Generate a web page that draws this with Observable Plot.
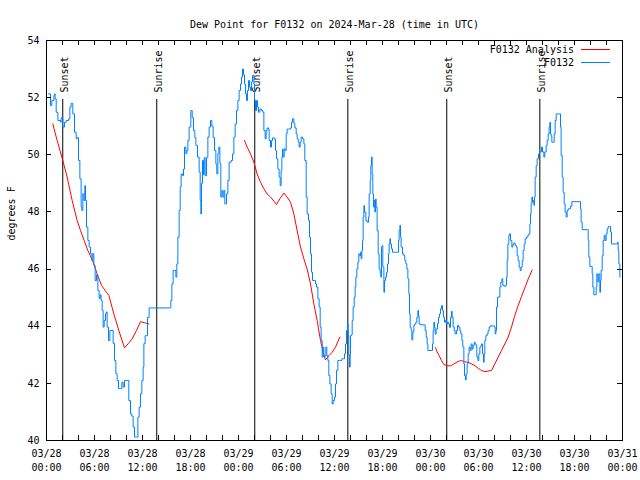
<!DOCTYPE html>
<html><head><meta charset="utf-8">
<script src="https://cdn.jsdelivr.net/npm/d3@7"></script>
<script src="https://cdn.jsdelivr.net/npm/@observablehq/plot@0.6"></script>
<style>body{margin:0;background:#fff} svg{display:block}</style>
</head><body><div id="chart"></div><script>
// ---------- data (hours since 03/28 00:00 UTC, dew point in °F) ----------
const titleText = "Dew Point for F0132 on 2024-Mar-28 (time in UTC)";
const yLabel = "degrees F";
const seriesNames = ["F0132 Analysis", "F0132"];
const seriesColors = ["#ff0000", "#0080ff"];

const obsHours = [0.25,0.5,0.67,0.92,1.0,1.08,1.21,1.42,1.75,1.83,2.04,2.25,2.46,2.75,2.92,3.08,3.29,3.5,3.71,3.83,4.0,4.17,4.33,4.42,4.54,4.67,4.79,4.875,5.0,5.17,5.33,5.5,5.67,5.79,5.92,6.08,6.25,6.42,6.58,6.71,6.83,6.96,7.08,7.21,7.375,7.5,7.58,7.75,7.92,8.2,8.33,8.5,8.67,8.83,9.0,9.25,9.42,9.58,9.75,10.0,10.17,10.29,10.5,10.67,10.83,11.0,11.25,11.42,11.58,11.75,11.92,12.08,12.17,
12.33,12.54,12.625,12.83,15.33,15.54,15.67,15.83,16.04,16.17,16.29,16.42,16.58,16.71,16.83,17.0,17.125,17.25,17.42,17.54,17.67,17.83,18.04,18.21,18.375,18.54,18.67,18.875,19.08,19.21,19.29,19.375,19.5,19.625,19.71,19.83,20.0,20.17,20.33,20.5,20.67,20.83,21.0,21.17,21.29,21.42,21.54,21.67,21.79,21.92,22.04,22.17,22.29,22.5,22.67,22.83,23.08,23.25,23.42,23.58,23.75,23.92,24.08,24.25,24.375,
24.5,24.625,24.75,24.875,25.0,25.125,25.25,25.375,25.5,25.625,25.75,25.92,26.0,26.125,26.25,26.375,26.5,26.67,26.875,27.04,27.17,27.33,27.46,27.58,27.75,27.83,28.0,28.125,28.25,28.5,28.625,28.75,28.92,29.08,29.21,29.33,29.42,29.5,29.58,29.71,29.83,29.96,30.08,30.29,30.5,30.625,30.75,30.92,31.04,31.21,31.33,31.46,31.58,31.71,31.83,32.0,32.17,32.29,32.46,32.58,32.75,32.875,33.0,33.125,33.25,33.5,33.625,33.75,33.92,34.08,34.21,34.33,34.46,34.58,34.67,34.79,34.92,35.04,35.17,35.29,35.42,35.58,35.71,35.83,36.0,36.125,36.25,36.42,36.625,
36.71,36.92,37.125,37.25,37.375,37.5,37.625,37.71,37.79,37.875,37.96,38.0,38.125,38.21,38.33,38.46,38.58,38.67,38.79,38.92,39.04,39.17,39.25,39.33,39.42,39.5,39.58,39.67,39.75,39.92,40.08,40.25,40.33,40.46,40.54,40.625,40.71,40.79,40.875,40.96,41.04,41.125,41.21,41.33,41.46,41.58,41.71,41.79,41.875,41.96,42.04,42.17,42.25,42.375,42.5,42.625,42.75,42.83,42.92,43.0,43.125,43.25,43.58,43.92,44.0,44.08,44.17,44.25,44.33,44.5,44.67,44.79,44.92,45.04,45.17,45.29,45.375,45.46,45.58,45.67,45.79,45.92,46.04,46.17,46.29,46.42,46.5,46.58,46.75,47.25,47.33,47.46,47.58,47.67,48.17,48.25,48.33,48.42,48.5,48.58,48.71,
48.875,49.0,49.125,49.25,49.375,49.5,49.625,49.75,49.875,50.0,50.125,50.25,50.375,50.5,50.625,50.71,50.83,50.96,51.08,51.25,51.375,51.5,51.67,51.79,51.92,52.04,52.17,52.25,52.375,52.46,52.58,52.71,52.83,52.96,53.08,53.21,53.33,53.46,53.58,53.71,53.79,53.92,54.04,54.17,54.29,54.375,54.5,54.625,54.71,54.79,54.92,55.08,55.2,55.33,55.46,55.83,56.0,56.08,56.17,56.25,56.375,56.58,56.67,56.79,56.92,57.04,57.21,57.375,57.5,57.58,57.67,57.79,57.875,58.0,58.17,58.29,58.42,58.58,58.75,58.83,58.96,59.08,59.21,59.33,59.46,59.58,59.71,59.83,60.0,60.17,60.29,60.42,60.5,60.58,60.67,60.75,60.83,60.92,61.0,61.08,
61.21,61.33,61.5,61.625,61.75,61.875,62.0,62.17,62.29,62.46,62.58,62.71,62.83,62.92,63.0,63.08,63.17,63.33,63.46,63.58,63.71,64.17,64.25,64.33,64.46,64.58,64.71,64.83,64.96,65.08,65.21,65.375,65.5,65.67,66.67,66.75,66.83,66.96,67.58,67.71,67.79,67.92,68.08,68.21,68.29,68.42,68.58,68.71,68.79,68.92,69.04,69.17,69.25,69.33,69.46,69.58,69.71,69.83,69.96,70.08,70.21,70.375,70.5,70.625,71.29,71.375,71.46,71.54,71.67];

const obsDewF = [52.13,51.72,51.9,52.07,52.13,51.96,51.49,51.2,51.14,51.3,50.97,51.14,51.2,51.25,51.67,51.8,51.43,50.79,50.56,50.6,49.8,49.16,48.17,48.05,48.64,48.4,48.92,48.4,47.47,47.0,46.77,46.54,46.3,46.54,46.12,45.6,45.8,45.25,44.97,45.1,44.9,44.55,43.97,44.2,44.44,44.5,43.97,43.5,43.85,43.85,43.4,42.8,42.34,42.1,41.82,41.82,42.04,41.87,42.1,42.1,42.1,41.4,40.93,40.85,40.47,40.12,40.12,40.82,41.17,41.64,42.1,42.57,43.39,
43.67,43.67,44.31,44.64,44.64,44.9,45.48,45.95,45.95,45.72,46.18,47.12,48.05,48.87,49.33,49.27,49.5,50.27,50.04,50.15,50.5,50.97,51.55,51.3,50.85,50.6,50.33,49.92,49.4,48.4,47.93,49.0,49.8,49.3,49.9,49.27,49.9,50.62,50.97,51.2,51.0,50.6,50.15,49.68,49.33,50.04,50.27,49.7,48.52,48.75,48.52,48.75,48.28,48.63,49.1,49.74,49.8,50.03,50.62,51.08,51.55,51.9,52.25,52.48,52.72,
53.0,52.8,52.48,52.13,51.9,52.25,52.6,52.37,52.25,52.55,52.78,52.48,51.9,51.55,51.9,51.67,51.49,51.6,51.55,51.49,50.85,50.56,50.85,50.94,50.9,50.5,50.27,50.5,50.59,50.55,50.15,49.86,49.5,49.22,48.92,49.45,49.92,50.2,49.92,50.21,50.15,50.73,50.9,50.9,50.94,51.14,51.26,51.1,50.94,50.73,50.56,50.44,50.27,50.44,50.62,50.56,50.38,49.8,48.52,47.93,47.7,47.12,46.53,45.89,45.6,45.6,45.48,45.37,44.96,44.67,43.97,43.5,42.92,43.27,42.92,42.97,43.27,42.97,42.8,42.27,41.98,41.64,41.28,41.4,41.52,41.98,42.45,42.8,42.8,
42.8,42.86,42.86,43.03,43.38,43.85,44.08,43.67,43.0,42.57,43.0,43.67,43.7,44.2,44.67,45.02,45.37,45.72,46.0,46.24,46.53,46.47,46.59,46.36,46.65,47.0,47.82,48.22,47.99,47.7,47.64,47.82,48.63,49.1,49.62,49.92,49.33,48.63,48.17,48.4,48.0,48.45,48.17,47.35,46.53,46.0,45.85,45.72,46.77,46.82,46.07,45.19,45.6,45.72,45.89,46.18,46.53,46.88,47.06,46.88,46.71,46.59,46.59,46.59,47.0,47.35,47.53,47.12,46.77,46.53,46.47,46.3,46.18,46.0,45.66,45.13,44.43,43.97,43.85,43.52,43.8,44.03,44.08,44.14,44.31,44.55,44.37,44.08,44.05,44.05,43.85,43.62,43.38,43.15,43.15,43.38,43.85,44.14,43.96,43.73,43.9,
44.1,44.31,44.43,44.61,44.72,44.55,44.31,44.14,44.2,44.08,44.14,44.08,43.96,44.31,44.52,44.31,43.97,43.85,43.73,43.85,44.03,43.97,43.85,43.73,43.5,43.27,42.68,42.27,42.12,42.33,42.68,43.03,43.27,43.15,43.38,43.2,43.32,43.44,43.38,43.32,42.92,42.8,43.03,43.27,43.32,43.38,43.03,42.74,43.03,43.5,43.67,43.73,43.85,43.97,44.01,44.01,43.97,43.73,43.85,44.67,45.02,45.02,45.37,45.54,45.66,45.43,45.4,45.43,45.72,46.3,46.88,47.18,47.23,47.0,46.77,46.86,46.91,46.82,46.77,46.47,46.3,46.07,45.95,46.07,46.3,46.65,46.88,47.06,47.12,47.18,47.23,47.58,47.93,48.28,48.52,48.34,48.4,48.23,48.52,49.22,
49.62,49.86,50.03,50.1,50.1,50.27,50.1,49.92,50.1,50.33,50.5,50.73,50.97,51.14,50.73,50.65,50.44,50.44,50.73,51.2,51.43,51.43,50.97,49.98,49.22,48.69,48.28,47.99,47.82,48.05,48.11,48.11,48.2,48.36,48.36,48.11,47.64,47.38,47.38,47.0,46.42,46.09,46.09,45.83,45.37,45.1,45.1,45.37,45.83,45.55,45.83,45.19,45.6,45.95,46.47,47.0,47.18,47.0,47.23,47.41,47.49,47.49,47.3,46.88,46.88,46.94,46.65,46.18,45.72];

// Analysis: one run per night
const anaNight1Hours = [0.79,1.33,2.04,2.58,3.21,3.83,4.25,4.71,5.17,5.58,5.92,6.33,6.875,7.33,7.79,8.42,9.04,9.75,10.25,10.71,11.25,11.75,12.25,12.79];
const anaNight1DewF = [51.08,50.5,49.8,49.22,48.4,47.7,47.35,47.0,46.65,46.4,46.18,45.83,45.43,45.25,45.08,44.43,43.85,43.24,43.4,43.56,43.85,44.16,44.12,44.08];
const anaNight2Hours = [24.75,25.08,25.5,25.92,26.33,26.75,27.17,27.58,28.0,28.42,28.75,29.17,29.67,30.08,30.5,30.92,31.33,31.75,32.17,32.58,33.0,33.42,33.83,34.25,34.58,34.875,35.29,35.71,36.125,36.67];
const anaNight2DewF = [50.5,50.27,50.03,49.74,49.33,49.04,48.81,48.63,48.52,48.38,48.26,48.46,48.66,48.52,48.34,47.93,47.35,46.77,46.36,46.0,45.48,44.78,44.2,43.5,43.09,42.82,42.97,43.09,43.27,43.62];
const anaNight3Hours = [48.625,48.83,49.08,49.375,49.67,50.08,50.5,50.92,51.46,51.875,52.29,52.71,53.125,53.54,53.96,54.375,54.79,55.2,55.625,56.04,56.46,56.875,57.29,57.71,58.125,58.54,58.96,59.375,59.79,60.21,60.71];
const anaNight3DewF = [43.25,43.1,42.97,42.8,42.66,42.62,42.61,42.68,42.77,42.8,42.75,42.74,42.68,42.62,42.53,42.45,42.41,42.43,42.45,42.68,42.92,43.15,43.38,43.62,43.97,44.38,44.72,45.04,45.34,45.65,45.97];

const sunHours = [2.033, 13.783, 26.033, 37.667, 50.033, 61.667];
const sunLabels = ["Sunset", "Sunrise", "Sunset", "Sunrise", "Sunset", "Sunrise"];

const xDomain = [0, 72];
const xTickHours = [0,2,4,6,8,10,12,14,16,18,20,22,24,26,28,30,32,34,36,38,40,42,44,46,48,50,52,54,56,58,60,62,64,66,68,70,72];
const xLabelHours = [0,6,12,18,24,30,36,42,48,54,60,66,72];
const xTickLabels = ["03/28\n00:00","03/28\n06:00","03/28\n12:00","03/28\n18:00","03/29\n00:00","03/29\n06:00","03/29\n12:00","03/29\n18:00","03/30\n00:00","03/30\n06:00","03/30\n12:00","03/30\n18:00","03/31\n00:00"];
const yDomain = [40, 54];
const yTicks = [40,42,44,46,48,50,52,54];

// ---------- tables ----------
const obs = obsHours.map((h, i) => ({h, v: obsDewF[i]}));
const ana = [
  [anaNight1Hours, anaNight1DewF],
  [anaNight2Hours, anaNight2DewF],
  [anaNight3Hours, anaNight3DewF]
].flatMap(([hs, vs], run) => hs.map((h, i) => ({h, v: vs[i], run})));
const sun = sunHours.map((h, i) => ({h, label: sunLabels[i]}));

const FONT = "'DejaVu Sans Mono', monospace";
const ruleTop = yDomain[0] + 0.8525 * (yDomain[1] - yDomain[0]);
const labelBase = yDomain[0] + 0.87 * (yDomain[1] - yDomain[0]);

function inwardTicks(index, scales, values, dims) {
  const {x, y} = scales;
  const top = dims.marginTop, bottom = dims.height - dims.marginBottom;
  const left = dims.marginLeft, right = dims.width - dims.marginRight;
  let d = "";
  for (const h of xTickHours) { const px = Math.round(x(h)) + 0.5; d += `M${px},${bottom}v-5M${px},${top}v5`; }
  for (const v of yTicks) { const py = Math.round(y(v)) + 0.5; d += `M${left},${py}h5M${right},${py}h-5`; }
  const p = document.createElementNS("http://www.w3.org/2000/svg", "path");
  p.setAttribute("d", d); p.setAttribute("stroke", "#000"); p.setAttribute("fill", "none");
  return p;
}

function legend(index, scales, values, dims) {
  const g = d3.create("svg:g").attr("font-family", FONT).attr("font-size", 10);
  const right = dims.width - dims.marginRight;
  seriesNames.forEach((name, i) => {
    const y = dims.marginTop + 9.5 + i * 13;
    g.append("text").attr("x", right - 48).attr("y", y).attr("dy", "0.32em")
      .attr("text-anchor", "end").attr("fill", "#000").text(name);
    g.append("line").attr("x1", right - 41).attr("x2", right - 12)
      .attr("y1", y).attr("y2", y).attr("stroke", seriesColors[i]);
  });
  return g.node();
}

const chart = Plot.plot({
  width: 640, height: 480,
  marginLeft: 46, marginRight: 18, marginTop: 40, marginBottom: 40,
  style: {fontFamily: FONT, fontSize: "10px", background: "#fff", color: "#000"},
  x: {domain: xDomain},
  y: {domain: yDomain},
  marks: [
    Plot.axisX({ticks: xLabelHours, tickSize: 0, tickPadding: 7, lineHeight: 1.4, label: null,
      tickFormat: d => xTickLabels[xLabelHours.indexOf(d)]}),
    Plot.axisY({ticks: yTicks, tickSize: 0, tickPadding: 7, label: null}),
    Plot.ruleX(sun, {x: "h", y1: yDomain[0], y2: ruleTop, stroke: "#000"}),
    Plot.text(sun, {x: "h", y: labelBase, text: "label", rotate: -90, textAnchor: "start", dx: 2, fill: "#000"}),
    Plot.line(ana, {x: "h", y: "v", z: "run", stroke: seriesColors[0], strokeWidth: 1}),
    Plot.line(obs, {x: "h", y: "v", stroke: seriesColors[1], strokeWidth: 1, curve: "step-after"}),
    Plot.frame({stroke: "#000"}),
    inwardTicks,
    legend,
    Plot.text([titleText], {frameAnchor: "top", dy: -20, fill: "#000"}),
    Plot.text([yLabel], {frameAnchor: "left", dx: -35, rotate: -90, fill: "#000"})
  ]
});
document.getElementById("chart").appendChild(chart);
</script></body></html>
